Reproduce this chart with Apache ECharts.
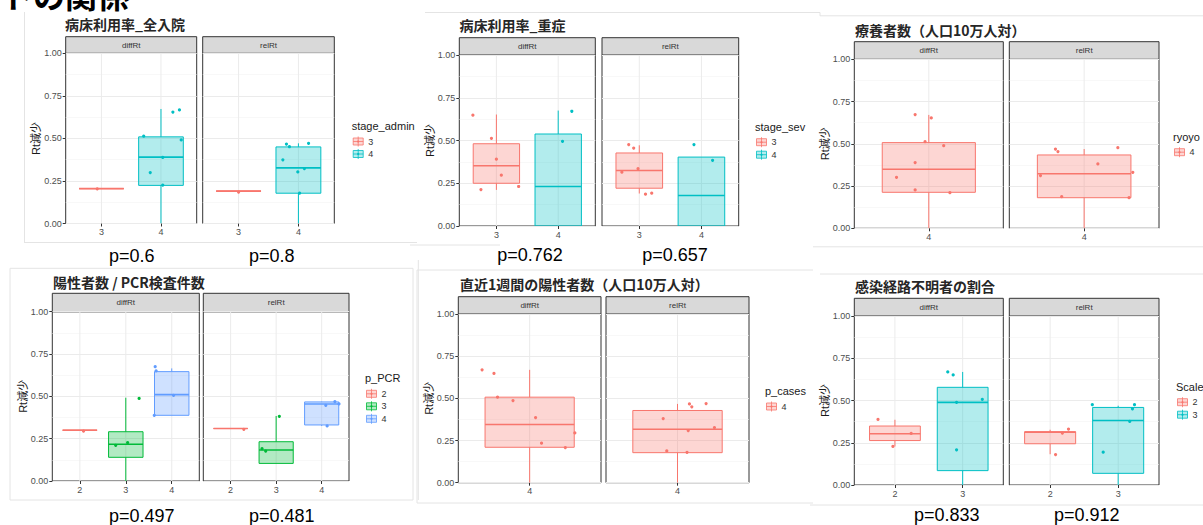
<!DOCTYPE html>
<html><head><meta charset="utf-8">
<script src="https://cdn.jsdelivr.net/npm/echarts@6/dist/echarts.min.js"></script>
<style>html,body{margin:0;padding:0;background:#fff}#c{width:1203px;height:525px}</style>
</head><body><div id="c"></div>
<script>
// ---------------- DATA ----------------
const pageTitle = 'トの関係';
const panelTitles = ['病床利用率_全入院', '病床利用率_重症', '療養者数（人口10万人対）',
  '陽性者数 / PCR検査件数', '直近1週間の陽性者数（人口10万人対）', '感染経路不明者の割合'];
const facetNames = ['diffRt', 'relRt'];
const yAxisName = 'Rt減少';
const yTicks = [0, 0.25, 0.5, 0.75, 1];
const legendTitles = ['stage_admin', 'stage_sev', 'ryoyo', 'p_PCR', 'p_cases', 'Scale'];

// categories per panel
const p1Cats = ['3', '4'];
const p2Cats = ['3', '4'];
const p3Cats = ['4'];
const p4Cats = ['2', '3', '4'];
const p5Cats = ['4'];
const p6Cats = ['2', '3'];

// box stats per category: [lower whisker, Q1, median, Q3, upper whisker]
const p1DiffBox = [[0.205, 0.205, 0.205, 0.205, 0.205], [0, 0.224, 0.390, 0.509, 0.673]];
const p1RelBox  = [[0.19, 0.19, 0.19, 0.19, 0.19], [0, 0.178, 0.327, 0.450, 0.471]];
const p2DiffBox = [[0.211, 0.250, 0.352, 0.481, 0.652], [0, 0, 0.231, 0.538, 0.675]];
const p2RelBox  = [[0.19, 0.221, 0.325, 0.427, 0.472], [0, 0, 0.178, 0.403, 0.403]];
const p3DiffBox = [[0, 0.213, 0.349, 0.507, 0.671]];
const p3RelBox  = [[0, 0.181, 0.323, 0.434, 0.469]];
const p4DiffBox = [[0.30, 0.30, 0.30, 0.30, 0.30], [0, 0.140, 0.217, 0.291, 0.492], [0.388, 0.388, 0.510, 0.646, 0.665]];
const p4RelBox  = [[0.31, 0.31, 0.31, 0.31, 0.31], [0.104, 0.104, 0.183, 0.232, 0.384], [0.325, 0.331, 0.455, 0.467, 0.469]];
const p5DiffBox = [[0, 0.210, 0.345, 0.507, 0.669]];
const p5RelBox  = [[0, 0.178, 0.317, 0.428, 0.467]];
const p6DiffBox = [[0.228, 0.263, 0.303, 0.349, 0.386], [0, 0.085, 0.489, 0.578, 0.669]];
const p6RelBox  = [[0.182, 0.244, 0.313, 0.315, 0.327], [0, 0.069, 0.382, 0.459, 0.469]];

// jittered points: [category index, jitter (category units), value]
const p1DiffPts = [[0, -0.07, 0.204], [1, -0.29, 0.513], [1, -0.18, 0.299], [1, 0.03, 0.388], [1, 0.03, 0.226], [1, 0.20, 0.655], [1, 0.31, 0.667], [1, 0.34, 0.491]];
const p1RelPts  = [[0, 0, 0.185], [1, -0.26, 0.374], [1, -0.20, 0.467], [1, -0.15, 0.451], [1, -0.01, 0.303], [1, 0.10, 0.323], [1, 0.02, 0.178], [1, 0.17, 0.471]];
const p2DiffPts = [[0, -0.38, 0.648], [0, -0.25, 0.213], [0, -0.08, 0.513], [0, 0, 0.391], [0, 0.08, 0.297], [0, 0.36, 0.231], [1, 0.07, 0.495], [1, 0.22, 0.671]];
const p2RelPts  = [[0, -0.28, 0.315], [0, -0.17, 0.476], [0, -0.09, 0.456], [0, -0.02, 0.335], [0, 0.10, 0.186], [0, 0.20, 0.192], [1, -0.12, 0.476], [1, 0.18, 0.384]];
const p3DiffPts = [[0, -0.11, 0.673], [0, 0.02, 0.653], [0, -0.03, 0.513], [0, 0.12, 0.489], [0, -0.11, 0.389], [0, -0.26, 0.302], [0, -0.11, 0.227], [0, 0.17, 0.211]];
const p3RelPts  = [[0, -0.23, 0.469], [0, -0.21, 0.454], [0, 0.11, 0.381], [0, 0.27, 0.477], [0, -0.35, 0.312], [0, 0.39, 0.331], [0, -0.18, 0.187], [0, 0.36, 0.181]];
const p4DiffPts = [[0, 0.08, 0.295], [1, -0.22, 0.211], [1, 0.04, 0.226], [1, 0.29, 0.488], [2, -0.36, 0.675], [2, -0.34, 0.650], [2, -0.38, 0.388], [2, 0.04, 0.506]];
const p4RelPts  = [[0, 0.29, 0.305], [1, -0.31, 0.191], [1, -0.23, 0.177], [1, 0.07, 0.382], [2, 0.29, 0.469], [2, 0.09, 0.447], [2, 0.12, 0.325], [2, 0.38, 0.455]];
const p5DiffPts = [[0, -0.40, 0.669], [0, -0.30, 0.648], [0, -0.27, 0.507], [0, -0.14, 0.487], [0, 0.05, 0.386], [0, 0.10, 0.234], [0, 0.30, 0.208], [0, 0.38, 0.295]];
const p5RelPts  = [[0, -0.12, 0.380], [0, -0.09, 0.188], [0, 0.09, 0.309], [0, 0.08, 0.180], [0, 0.10, 0.467], [0, 0.12, 0.450], [0, 0.24, 0.469], [0, 0.31, 0.327]];
const p6DiffPts = [[0, -0.25, 0.388], [0, -0.03, 0.228], [0, 0.24, 0.305], [1, -0.22, 0.669], [1, -0.14, 0.651], [1, -0.09, 0.489], [1, -0.09, 0.208], [1, 0.29, 0.507]];
const p6RelPts  = [[0, 0.08, 0.180], [0, 0.18, 0.307], [0, 0.27, 0.331], [1, -0.38, 0.475], [1, -0.22, 0.194], [1, 0.17, 0.376], [1, 0.21, 0.451], [1, 0.24, 0.475]];

// p-values under each facet (null = none shown)
const p1P = ['p=0.6', 'p=0.8'];
const p2P = ['p=0.762', 'p=0.657'];
const p3P = null;
const p4P = ['p=0.497', 'p=0.481'];
const p5P = null;
const p6P = ['p=0.833', 'p=0.912'];

// ---------------- STYLE / LAYOUT ----------------
const HUE = {1: ['#F8766D'], 2: ['#F8766D', '#00BFC4'], 3: ['#F8766D', '#00BA38', '#619CFF']};
function rgba(hex, a) {
  const n = parseInt(hex.slice(1), 16);
  return 'rgba(' + (n >> 16 & 255) + ',' + (n >> 8 & 255) + ',' + (n & 255) + ',' + a + ')';
}
const BOX_W = 0.75;
const CJK = "'Noto Sans CJK JP', sans-serif";
const LAT = "'Liberation Sans', Arial, 'Noto Sans CJK JP', sans-serif";

const panels = [
  {cats: p1Cats, box: [p1DiffBox, p1RelBox], pts: [p1DiffPts, p1RelPts], p: p1P},
  {cats: p2Cats, box: [p2DiffBox, p2RelBox], pts: [p2DiffPts, p2RelPts], p: p2P},
  {cats: p3Cats, box: [p3DiffBox, p3RelBox], pts: [p3DiffPts, p3RelPts], p: p3P},
  {cats: p4Cats, box: [p4DiffBox, p4RelBox], pts: [p4DiffPts, p4RelPts], p: p4P},
  {cats: p5Cats, box: [p5DiffBox, p5RelBox], pts: [p5DiffPts, p5RelPts], p: p5P},
  {cats: p6Cats, box: [p6DiffBox, p6RelBox], pts: [p6DiffPts, p6RelPts], p: p6P}
];
const layout = [
  {stripTop: 36.7, top: 53.3, bottom: 223.5, fx: [[65.7, 196.7], [202.7, 334.3]], tx: 65, ty: 24, yn: 36, lx: 351.7, ly: 126, pY: 256, pX: [131.7, 271.7]},
  {stripTop: 37.7, top: 55, bottom: 226, fx: [[459.3, 595.3], [602, 738.7]], tx: 459.5, ty: 25, yn: 430, lx: 755, ly: 126.7, pY: 255, pX: [530, 675]},
  {stripTop: 41.7, top: 59.3, bottom: 228.3, fx: [[854.3, 1003.3], [1009.3, 1159]], tx: 855, ty: 29.5, yn: 825, lx: 1173, ly: 136.7},
  {stripTop: 293.3, top: 311.7, bottom: 481, fx: [[52.3, 199.3], [203.3, 349]], tx: 53, ty: 281.7, yn: 22.6, lx: 365, ly: 378.3, pY: 516, pX: [141.7, 281.7]},
  {stripTop: 296.7, top: 314, bottom: 482.7, fx: [[458.3, 601], [606, 749]], tx: 460, ty: 284, yn: 428.6, lx: 765, ly: 391},
  {stripTop: 298.3, top: 316, bottom: 485, fx: [[854.3, 1003.3], [1009.3, 1159]], tx: 855, ty: 286, yn: 824.6, lx: 1176, ly: 386.7, pY: 515, pX: [946.7, 1086.7]}
];

const grids = [], xAxes = [], yAxes = [], series = [], graphics = [];

// faint frame lines of the pasted screenshots
const frameLines = [
  [24.5, 12, 24.5, 243], [24.5, 242.5, 417, 242.5],
  [425, 12.5, 820, 12.5], [410, 245, 500, 245],
  [820, 15.8, 1203, 15.8], [820, 12.5, 820, 15.8], [813, 246.8, 1203, 246.8],
  [10, 268.3, 413, 268.3], [10, 268.3, 10, 500], [10, 500, 413, 500], [413, 268.3, 413, 500],
  [418.3, 260, 418.3, 500],
  [417, 270, 417, 503], [417, 503, 813, 503], [417, 270, 813, 270],
  [820, 274, 1203, 274], [810, 505, 1203, 505]
];
frameLines.forEach(l => graphics.push({type: 'line', silent: true, z: 0,
  shape: {x1: l[0], y1: l[1], x2: l[2], y2: l[3]}, style: {stroke: '#e4e4e4', lineWidth: 1}}));

graphics.push({type: 'text', x: 129, y: -6, silent: true, z: 10,
  style: {text: pageTitle, font: 'bold 32px ' + CJK, fill: '#000', textAlign: 'right', textVerticalAlign: 'middle'}});

panels.forEach((P, i) => {
  const L = layout[i];
  const n = P.cats.length;
  const cols = HUE[n];
  const idx = P.cats.map((c, k) => k + 1);

  graphics.push({type: 'text', x: L.tx, y: L.ty, silent: true,
    style: {text: panelTitles[i], font: 'bold 14px ' + CJK, fill: '#262626', textAlign: 'left', textVerticalAlign: 'middle'}});
  graphics.push({type: 'text', x: L.yn, y: (L.top + L.bottom) / 2, rotation: Math.PI / 2, silent: true,
    style: {text: yAxisName, font: '11px ' + LAT, fill: '#1a1a1a', textAlign: 'center', textVerticalAlign: 'middle'}});

  // legend
  graphics.push({type: 'text', x: L.lx, y: L.ly, silent: true,
    style: {text: legendTitles[i], font: '11px ' + LAT, fill: '#1a1a1a', textAlign: 'left', textVerticalAlign: 'middle'}});
  P.cats.forEach((c, k) => {
    const cy = L.ly + 15.5 + k * 12.5, kx = L.lx + 1.5, c0 = cols[k];
    graphics.push({type: 'group', silent: true, children: [
      {type: 'line', shape: {x1: kx + 5, y1: cy - 5, x2: kx + 5, y2: cy + 5}, style: {stroke: c0, lineWidth: 0.8}},
      {type: 'rect', shape: {x: kx, y: cy - 3.5, width: 10, height: 7}, style: {fill: rgba(c0, 0.3), stroke: c0, lineWidth: 0.8}},
      {type: 'line', shape: {x1: kx, y1: cy, x2: kx + 10, y2: cy}, style: {stroke: c0, lineWidth: 0.8}},
      {type: 'circle', shape: {cx: kx + 5, cy: cy, r: 1.1}, style: {fill: c0}}
    ]});
    graphics.push({type: 'text', x: kx + 15, y: cy, silent: true,
      style: {text: c, font: '9px ' + LAT, fill: '#333', textAlign: 'left', textVerticalAlign: 'middle'}});
  });

  [0, 1].forEach(f => {
    const g = grids.length;
    const x1 = L.fx[f][0], x2 = L.fx[f][1];
    grids.push({left: x1, top: L.top, width: x2 - x1, height: L.bottom - L.top,
      show: true, borderColor: '#333333', borderWidth: 1, backgroundColor: '#fff'});
    // facet strip
    graphics.push({type: 'rect', silent: true,
      shape: {x: x1, y: L.stripTop, width: x2 - x1, height: L.top - L.stripTop},
      style: {fill: '#d9d9d9', stroke: '#333333', lineWidth: 1}});
    graphics.push({type: 'text', x: (x1 + x2) / 2, y: (L.stripTop + L.top) / 2, silent: true,
      style: {text: facetNames[f], font: '8px ' + LAT, fill: '#333', textAlign: 'center', textVerticalAlign: 'middle'}});
    if (P.p) {
      graphics.push({type: 'text', x: L.pX[f], y: L.pY, silent: true,
        style: {text: P.p[f], font: '18px ' + LAT, fill: '#000', textAlign: 'center', textVerticalAlign: 'middle'}});
    }

    xAxes.push({gridIndex: g, type: 'value', min: 0.4, max: n + 0.6,
      axisLine: {show: false}, splitLine: {show: false},
      axisTick: {show: true, length: 3, customValues: idx, lineStyle: {color: '#333'}},
      axisLabel: {customValues: idx, formatter: v => P.cats[Math.round(v) - 1], color: '#4d4d4d',
        fontSize: 9, margin: 4, fontFamily: 'Liberation Sans'}});
    yAxes.push({gridIndex: g, type: 'value', min: 0, max: 1, interval: 0.25,
      axisLine: {show: false},
      axisTick: {show: f === 0, length: 3, customValues: yTicks, lineStyle: {color: '#333'}},
      axisLabel: {show: f === 0, customValues: yTicks, formatter: v => v.toFixed(2), color: '#4d4d4d',
        fontSize: 9, margin: 4, fontFamily: 'Liberation Sans'},
      splitLine: {show: true, lineStyle: {color: '#ebebeb', width: 1}},
      minorTick: {show: false, splitNumber: 2},
      minorSplitLine: {show: true, lineStyle: {color: '#f3f3f3', width: 0.6}}});

    // vertical major grid lines at categories
    series.push({type: 'custom', xAxisIndex: g, yAxisIndex: g, silent: true, z: 1, clip: true,
      data: idx.map(k => [k, 0]), encode: {x: 0, y: 1},
      renderItem: (params, api) => {
        const a = api.coord([api.value(0), 0]), b = api.coord([api.value(0), 1]);
        return {type: 'line', shape: {x1: a[0], y1: a[1], x2: b[0], y2: b[1]}, style: {stroke: '#ebebeb', lineWidth: 1}};
      }});
    // boxes
    series.push({type: 'custom', xAxisIndex: g, yAxisIndex: g, silent: true, z: 2, clip: true,
      data: P.box[f].map((b, k) => [k + 1].concat(b)), encode: {x: 0, y: [1, 2, 3, 4, 5]},
      renderItem: (params, api) => {
        const x = api.value(0), c0 = cols[params.dataIndex];
        const hw = api.size([BOX_W, 0])[0] / 2;
        const lo = api.coord([x, api.value(1)]), q1 = api.coord([x, api.value(2)]),
              md = api.coord([x, api.value(3)]), q3 = api.coord([x, api.value(4)]),
              hi = api.coord([x, api.value(5)]);
        return {type: 'group', children: [
          {type: 'line', shape: {x1: hi[0], y1: hi[1], x2: q3[0], y2: q3[1]}, style: {stroke: c0, lineWidth: 1}},
          {type: 'line', shape: {x1: q1[0], y1: q1[1], x2: lo[0], y2: lo[1]}, style: {stroke: c0, lineWidth: 1}},
          {type: 'rect', shape: {x: q3[0] - hw, y: q3[1], width: 2 * hw, height: q1[1] - q3[1]},
            style: {fill: rgba(c0, 0.3), stroke: c0, lineWidth: 1}},
          {type: 'line', shape: {x1: md[0] - hw, y1: md[1], x2: md[0] + hw, y2: md[1]}, style: {stroke: c0, lineWidth: 1.6}}
        ]};
      }});
    // jittered points
    series.push({type: 'scatter', xAxisIndex: g, yAxisIndex: g, silent: true, z: 3,
      symbolSize: 3.2,
      data: P.pts[f].map(p => [p[0] + 1 + p[1], p[2], p[0]]),
      itemStyle: {color: prm => cols[prm.data[2]], opacity: 1}});
  });
});

const chart = echarts.init(document.getElementById('c'), null, {renderer: 'svg'});
chart.setOption({
  animation: false,
  backgroundColor: '#fff',
  grid: grids, xAxis: xAxes, yAxis: yAxes, series: series,
  graphic: {elements: graphics}
});
</script>
</body></html>
